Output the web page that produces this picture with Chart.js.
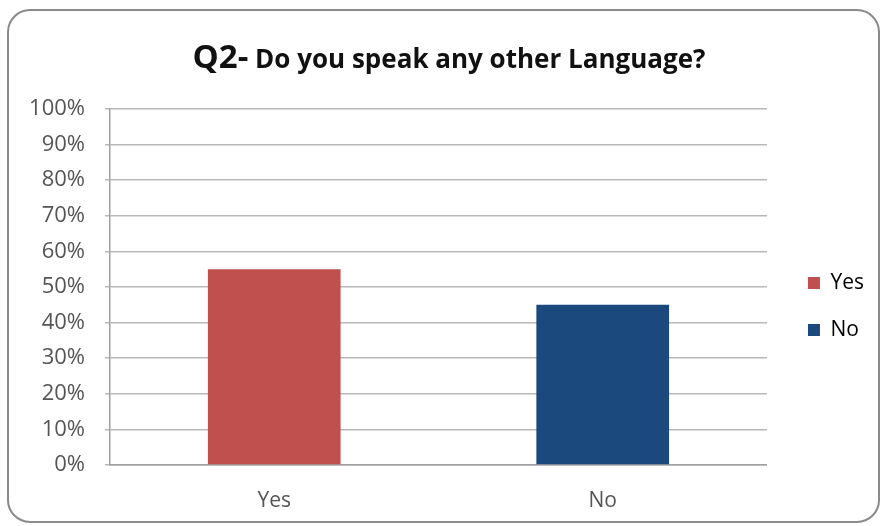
<!DOCTYPE html>
<html>
<head>
<meta charset="utf-8">
<script src="https://cdn.jsdelivr.net/npm/chart.js@4.4.0/dist/chart.umd.min.js"></script>
<style>
  html, body { margin: 0; padding: 0; background: #fff; }
  #wrap { width: 883px; height: 526px; }
</style>
</head>
<body>
<div id="wrap"><canvas id="myChart" width="883" height="526"></canvas></div>
<script>
const categories = ['Yes', 'No'];
const percentages = [55, 45];
const barColors = ['#C0504D', '#1B497D'];
const yTicks = [0, 10, 20, 30, 40, 50, 60, 70, 80, 90, 100];

const fontFamily = "'Open Sans', sans-serif";
const labelColor = '#555555';

// white background + rounded frame around the whole chart
const frame = {
    id: 'frame',
    beforeDraw(chart) {
        const c = chart.ctx;
        c.save();
        c.fillStyle = '#fff';
        c.fillRect(0, 0, chart.width, chart.height);
        c.strokeStyle = '#8a8a8a';
        c.lineWidth = 2;
        c.beginPath();
        c.roundRect(8, 10, chart.width - 12, chart.height - 14, 22);
        c.stroke();
        c.restore();
    }
};

// nudge the legend a little right and up from where the layout puts it
const legendNudge = {
    id: 'legendNudge',
    afterLayout(chart) {
        const lg = chart.legend;
        lg.left += 15; lg.right += 15;
        lg.top -= 11; lg.bottom -= 11;
    }
};

// title with a bigger "Q2-" prefix
const mixedTitle = {
    id: 'mixedTitle',
    afterDraw(chart) {
        const c = chart.ctx;
        const part1 = 'Q2-';
        const part2 = ' Do you speak any other Language?';
        c.save();
        c.fillStyle = '#111';
        c.textBaseline = 'alphabetic';
        c.font = "bold 33px " + fontFamily;
        const w1 = c.measureText(part1).width;
        c.font = "bold 26px " + fontFamily;
        const w2 = c.measureText(part2).width;
        let x = 449 - (w1 + w2) / 2;
        c.font = "bold 33px " + fontFamily;
        c.fillText(part1, x, 68);
        c.font = "bold 26px " + fontFamily;
        c.fillText(part2, x + w1, 68);
        c.restore();
    }
};

new Chart(document.getElementById('myChart'), {
    type: 'bar',
    data: {
        labels: categories,
        datasets: [{
            label: 'Share',
            data: percentages,
            backgroundColor: barColors,
            categoryPercentage: 0.8,
            barPercentage: 0.505,
        }]
    },
    options: {
        responsive: false,
        animation: false,
        layout: {
            padding: { top: 109, right: 24, bottom: 0, left: 0 }
        },
        plugins: {
            title: { display: false },
            tooltip: { enabled: false },
            legend: {
                position: 'right',
                labels: {
                    color: labelColor,
                    font: { family: fontFamily, size: 21 },
                    boxWidth: 12,
                    boxHeight: 12,
                    padding: 26,
                    generateLabels: function (chart) {
                        return categories.map(function (name, i) {
                            return {
                                text: name,
                                fillStyle: barColors[i],
                                strokeStyle: barColors[i],
                                lineWidth: 0,
                                index: i
                            };
                        });
                    }
                }
            }
        },
        scales: {
            y: {
                min: 0,
                max: 100,
                afterFit: function (scale) { scale.width = 110; },
                afterBuildTicks: function (scale) {
                    scale.ticks = yTicks.map(function (v) { return { value: v }; });
                },
                ticks: {
                    color: labelColor,
                    font: { family: fontFamily, size: 22 },
                    padding: 20,
                    callback: function (value) { return value + '%'; }
                },
                grid: {
                    color: '#b8b8b8',
                    lineWidth: 1.5,
                    tickLength: 5
                },
                border: { color: '#a0a0a0', width: 1.5 }
            },
            x: {
                afterFit: function (scale) { scale.height = 61; },
                ticks: {
                    color: labelColor,
                    font: { family: fontFamily, size: 21 },
                    padding: 15
                },
                grid: { display: false },
                border: { color: '#a0a0a0', width: 1.5 }
            }
        }
    },
    plugins: [frame, legendNudge, mixedTitle]
});
</script>
</body>
</html>
